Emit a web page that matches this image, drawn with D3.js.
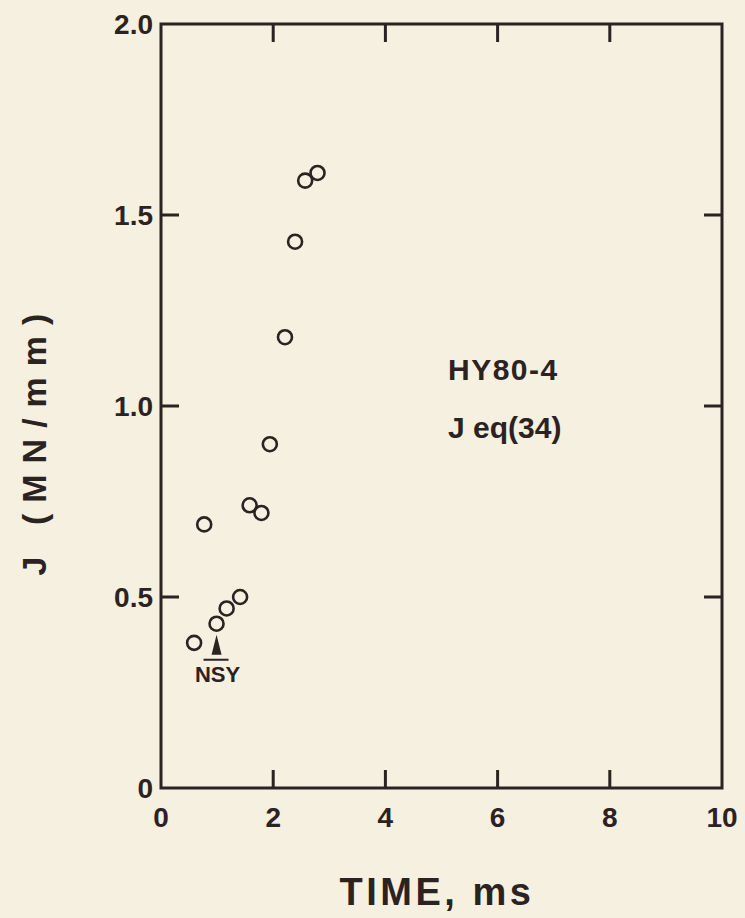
<!DOCTYPE html>
<html>
<head>
<meta charset="utf-8">
<script src="https://d3js.org/d3.v7.min.js"></script>
<style>
  body { margin: 0; background: #f6f0e1; }
  svg { display: block; }
  text { font-family: "Liberation Sans", Arial, sans-serif; font-weight: bold; fill: #2b2322; }
</style>
</head>
<body>
<script>
// data
var timeMs = [0.59, 0.77, 0.99, 1.17, 1.41, 1.58, 1.79, 1.94, 2.21, 2.39, 2.57, 2.79];
var jValues = [0.38, 0.69, 0.43, 0.47, 0.50, 0.74, 0.72, 0.90, 1.18, 1.43, 1.59, 1.61];
var xTicks = [0, 2, 4, 6, 8, 10];
var yTicks = [0, 0.5, 1.0, 1.5, 2.0];
var yTickLabels = ["0", "0.5", "1.0", "1.5", "2.0"];

var W = 745, H = 918;
var ink = "#2b2322";
var pLeft = 161, pRight = 722, pTop = 24, pBottom = 788;

var svg = d3.select("body").append("svg").attr("width", W).attr("height", H);

var x = d3.scaleLinear().domain([0, 10]).range([pLeft, pRight]);
var y = d3.scaleLinear().domain([0, 2]).range([pBottom, pTop]);

// frame
svg.append("rect")
  .attr("x", pLeft).attr("y", pTop)
  .attr("width", pRight - pLeft).attr("height", pBottom - pTop)
  .attr("fill", "none").attr("stroke", ink).attr("stroke-width", 3);

var tl = 18;
// inward ticks on all four sides
var xin = xTicks.filter(function (d) { return d > 0 && d < 10; });
svg.selectAll(".xb").data(xin).enter().append("line")
  .attr("x1", d => x(d)).attr("x2", d => x(d))
  .attr("y1", pBottom).attr("y2", pBottom - tl)
  .attr("stroke", ink).attr("stroke-width", 3);
svg.selectAll(".xt").data(xin).enter().append("line")
  .attr("x1", d => x(d)).attr("x2", d => x(d))
  .attr("y1", pTop).attr("y2", pTop + tl)
  .attr("stroke", ink).attr("stroke-width", 3);

var yin = yTicks.filter(function (d) { return d > 0 && d < 2; });
svg.selectAll(".yl").data(yin).enter().append("line")
  .attr("x1", pLeft).attr("x2", pLeft + tl)
  .attr("y1", d => y(d)).attr("y2", d => y(d))
  .attr("stroke", ink).attr("stroke-width", 3);
svg.selectAll(".yr").data(yin).enter().append("line")
  .attr("x1", pRight).attr("x2", pRight - tl)
  .attr("y1", d => y(d)).attr("y2", d => y(d))
  .attr("stroke", ink).attr("stroke-width", 3);

// tick labels
svg.selectAll(".xlab").data(xTicks).enter().append("text")
  .attr("x", d => x(d)).attr("y", pBottom + 39)
  .attr("text-anchor", "middle").attr("font-size", 28)
  .text(d => d);
svg.selectAll(".ylab").data(yTicks).enter().append("text")
  .attr("x", pLeft - 8).attr("y", d => y(d) + 10)
  .attr("text-anchor", "end").attr("font-size", 28)
  .text((d, i) => yTickLabels[i]);

// axis titles
svg.append("text")
  .attr("x", 437).attr("y", 905)
  .attr("text-anchor", "middle").attr("font-size", 38)
  .attr("letter-spacing", 3.5)
  .text("TIME, ms");
svg.append("text")
  .attr("transform", "translate(46,439) rotate(-90)")
  .attr("text-anchor", "middle").attr("font-size", 34)
  .attr("letter-spacing", 11)
  .text("J (MN/mm)");

// annotation
svg.append("text").attr("x", 448).attr("y", 380).attr("font-size", 30)
  .attr("letter-spacing", 1.5).text("HY80-4");
svg.append("text").attr("x", 448).attr("y", 438).attr("font-size", 30).text("J eq(34)");

// points
svg.selectAll("circle").data(timeMs).enter().append("circle")
  .attr("cx", d => x(d))
  .attr("cy", (d, i) => y(jValues[i]))
  .attr("r", 7)
  .attr("fill", "none").attr("stroke", ink).attr("stroke-width", 2.6);

// NSY marker under the third point
var ax = x(timeMs[2]), ay = y(jValues[2]);
svg.append("path")
  .attr("d", "M" + ax + "," + (ay + 11) + " L" + (ax - 5) + "," + (ay + 31) + " L" + (ax + 5) + "," + (ay + 31) + "Z")
  .attr("fill", ink);
svg.append("line")
  .attr("x1", ax - 13).attr("x2", ax + 12)
  .attr("y1", ay + 36).attr("y2", ay + 36)
  .attr("stroke", ink).attr("stroke-width", 2);
svg.append("text")
  .attr("x", ax + 1).attr("y", ay + 58)
  .attr("text-anchor", "middle").attr("font-size", 22)
  .text("NSY");
</script>
</body>
</html>
